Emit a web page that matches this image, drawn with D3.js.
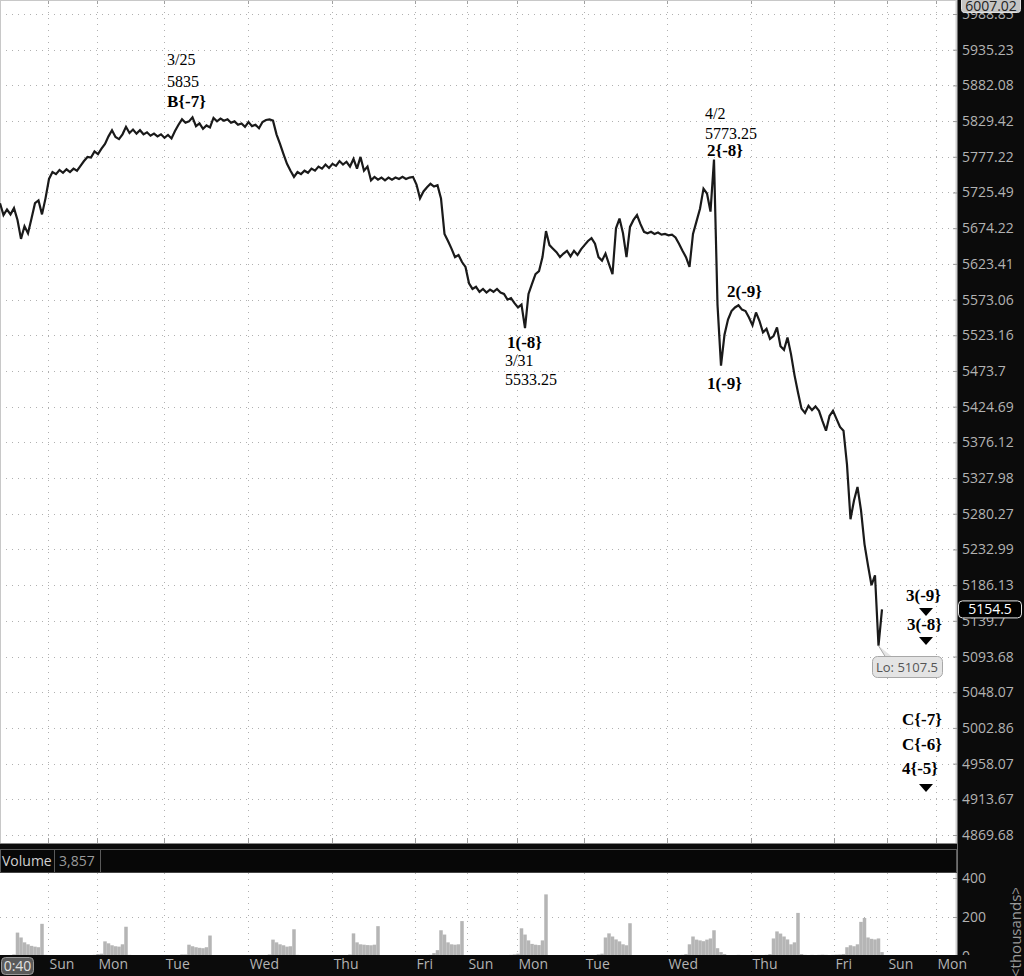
<!DOCTYPE html>
<html><head><meta charset="utf-8">
<script src="https://cdn.jsdelivr.net/npm/d3@7"></script>
<style>body{margin:0;background:#fff;overflow:hidden;} svg{display:block;}</style>
</head><body><svg id="c" width="1024" height="976"></svg>
<script>
// ---------------- DATA ----------------
const priceTicks = [5988.85, 5935.23, 5882.08, 5829.42, 5777.22, 5725.49, 5674.22, 5623.41, 5573.06, 5523.16, 5473.7, 5424.69, 5376.12, 5327.98, 5280.27, 5232.99, 5186.13, 5139.7, 5093.68, 5048.07, 5002.86, 4958.07, 4913.67, 4869.68];
const dayLabels = ["Sun", "Mon", "Tue", "Wed", "Thu", "Fri", "Sun", "Mon", "Tue", "Wed", "Thu", "Fri", "Sun", "Mon"];
// positions of the day separators, in hourly-bar units
const dayPos = [13.7, 27.7, 46.9, 70.9, 94.9, 118.6, 133.4, 147.7, 166.9, 190.6, 214.6, 238.3, 253.4, 267.4];
// hourly closes
const prices = [
 5710, 5693, 5701, 5694, 5703, 5686, 5659, 5677, 5667, 5688, 5710, 5714, 5694, 5717,
 5745, 5755, 5752, 5758, 5754, 5759, 5755, 5760, 5757, 5764, 5771, 5777, 5776,
 5785, 5781, 5789, 5796, 5807, 5816, 5806, 5803, 5810, 5821, 5812, 5817, 5811, 5816, 5810, 5813, 5808, 5811, 5807, 5810, 5805, 5809,
 5804, 5815, 5824, 5832, 5827, 5829, 5835, 5822, 5826, 5818, 5823, 5820, 5834, 5829, 5833, 5830, 5832, 5827, 5829, 5824, 5826, 5821, 5828, 5822, 5824, 5819, 5828, 5831, 5832, 5830,
 5810, 5796, 5781, 5767, 5757, 5748, 5755, 5752,
 5757, 5754, 5760, 5757, 5763, 5760, 5766, 5761, 5767, 5764, 5771, 5766, 5770, 5763, 5774, 5760, 5777, 5757, 5763, 5743, 5748, 5744, 5747, 5743, 5747, 5744, 5747, 5745, 5748, 5745, 5747, 5748, 5737, 5717, 5727, 5733, 5738, 5734, 5736,
 5717, 5666, 5656, 5645, 5633, 5636, 5626, 5619, 5596, 5588, 5591, 5584, 5588, 5583, 5587, 5584, 5588, 5583, 5581, 5573, 5575, 5568, 5562, 5566, 5533.25,
 5581, 5595, 5609, 5613, 5633, 5670, 5650, 5645, 5640, 5633, 5638, 5642, 5634, 5642, 5636, 5644, 5650, 5656, 5660, 5652, 5633, 5628, 5638, 5623, 5609, 5674, 5688, 5667, 5633, 5676, 5686, 5693, 5680, 5669, 5667, 5669, 5666, 5668, 5665, 5666, 5664, 5665, 5661, 5652, 5642, 5633, 5619, 5666, 5684, 5702, 5731, 5724, 5698, 5773.25,
 5566, 5481, 5524, 5545, 5557, 5562, 5565, 5559, 5557, 5548, 5537, 5555, 5543, 5527, 5532, 5518, 5522, 5534, 5508, 5503, 5520, 5497, 5468, 5444, 5422, 5416, 5426, 5420, 5425, 5419, 5405, 5392, 5412, 5419, 5408, 5397, 5392, 5346, 5273, 5298, 5316, 5285, 5240, 5212, 5186, 5199, 5107.5, 5154.5
];
// hourly volume (thousands)
const volumes = [
 4, 3, 5, 4, 8,
 120, 95, 70, 60, 52, 48, 45, 165, 6,
 5, 4, 3, 4, 5, 3, 4, 5, 4, 3, 4, 5, 4, 6, 10,
 12, 75, 65, 55, 50, 48, 60, 150, 6,
 4, 3, 5, 4, 3, 4, 5, 3, 4, 5, 4, 3, 4, 5, 8,
 8, 58, 50, 45, 42, 40, 45, 105, 5,
 4, 3, 5, 4, 3, 4, 5, 3, 4, 5, 4, 3, 4, 5, 4, 8,
 84, 70, 60, 55, 48, 50, 137, 6,
 4, 3, 5, 4, 3, 4, 5, 3, 4, 5, 4, 3, 4, 5, 8,
 116, 70, 60, 58, 56, 55, 58, 153, 5,
 4, 3, 5, 4, 3, 4, 5, 3, 4, 5, 4, 3, 4, 6, 15,
 30, 132, 110, 70, 60, 58, 60, 179, 5,
 3, 2, 2, 3, 2, 3, 4, 3, 4, 5, 4, 5, 6, 8,
 12, 142, 110, 80, 62, 58, 56, 80, 316, 5,
 4, 3, 5, 4, 3, 4, 5, 3, 4, 5, 4, 3, 4, 8, 12,
 95, 116, 100, 85, 75, 60, 55, 168, 5,
 4, 3, 5, 4, 3, 4, 5, 3, 4, 5, 4, 3, 4, 6, 10,
 60, 100, 84, 80, 76, 84, 90, 132, 40, 20, 10,
 5, 4, 5, 6, 4, 5, 4, 6, 5, 4, 5, 6, 10,
 90, 126, 115, 100, 85, 60, 70, 221, 10,
 6, 5, 6, 5, 6, 7, 6, 5, 6, 7, 8, 10,
 45, 55, 50, 60, 175, 195, 95, 88, 85, 90, 20
];
const volTicks = [0, 200, 400];
const highPrice = 6007.02;
const lastPrice = 5154.5;
const lowPrice = 5107.5;
const lastVolume = "3,857";
const timeLabel = "0:40";

// ---------------- LAYOUT ----------------
const svg = d3.select("#c");
const W = 1024, H = 976, plotR = 957;
const priceBottom = 843, volTop = 873, volBottom = 955;
const axisColor = "#b3b3b3";
const uiFont = "'Open Sans', 'DejaVu Sans', sans-serif";
const serif = "'Liberation Serif', 'Times New Roman', serif";

const x = d3.scaleLinear().domain([0, 273.43]).range([0, plotR]);
const y = d3.scaleLog().domain([4869.68, 5988.85]).range([835, 14]);
const yv = d3.scaleLinear().domain([0, 400]).range([956, 878]);

svg.append("rect").attr("width", W).attr("height", H).attr("fill", "#fff");

const defs = svg.append("defs");
defs.append("clipPath").attr("id", "pclip").append("rect").attr("x", 0).attr("y", 0).attr("width", plotR).attr("height", priceBottom);
defs.append("clipPath").attr("id", "vclip").append("rect").attr("x", 0).attr("y", volTop).attr("width", plotR).attr("height", volBottom - volTop);
defs.append("clipPath").attr("id", "uclip").append("rect").attr("x", plotR).attr("y", 888).attr("width", W - plotR).attr("height", H - 888);

// grid
const grid = svg.append("g").attr("stroke", "#b0b0b0").attr("stroke-width", 1).attr("stroke-dasharray", "1,5");
grid.selectAll("line.h").data(priceTicks).join("line")
  .attr("x1", 0).attr("x2", plotR)
  .attr("y1", d => Math.round(y(d)) + 0.5).attr("y2", d => Math.round(y(d)) + 0.5);
grid.selectAll("line.v").data(dayPos).join("line")
  .attr("x1", d => Math.round(x(d)) + 0.5).attr("x2", d => Math.round(x(d)) + 0.5)
  .attr("y1", 0).attr("y2", priceBottom);
grid.selectAll("line.vv").data(dayPos).join("line")
  .attr("x1", d => Math.round(x(d)) + 0.5).attr("x2", d => Math.round(x(d)) + 0.5)
  .attr("y1", volTop).attr("y2", volBottom);
grid.append("line").attr("x1", 0).attr("x2", plotR)
  .attr("y1", Math.round(yv(200)) + 0.5).attr("y2", Math.round(yv(200)) + 0.5);

const tk = svg.append("g").attr("stroke", "#a0a0a0");
tk.selectAll("line.t").data(dayPos).join("line")
  .attr("x1", d => Math.round(x(d)) + 0.5).attr("x2", d => Math.round(x(d)) + 0.5).attr("y1", 0).attr("y2", 4);
tk.selectAll("line.b").data(dayPos).join("line")
  .attr("x1", d => Math.round(x(d)) + 0.5).attr("x2", d => Math.round(x(d)) + 0.5).attr("y1", priceBottom - 5).attr("y2", priceBottom);

svg.append("line").attr("x1", 0.5).attr("x2", 0.5).attr("y1", 0).attr("y2", priceBottom).attr("stroke", "#c8c8c8");
svg.append("line").attr("x1", 0).attr("x2", plotR).attr("y1", 0.5).attr("y2", 0.5).attr("stroke", "#c8c8c8");

// volume bars
svg.append("g").attr("clip-path", "url(#vclip)")
  .selectAll("rect").data(volumes).join("rect")
  .attr("x", (d, i) => x(i) - 1.75).attr("width", 3.5)
  .attr("y", d => yv(d)).attr("height", d => yv(0) - yv(d))
  .attr("fill", "#b5b5b5");

// price line
const line = d3.line().x((d, i) => x(i)).y(d => y(d));
svg.append("path").datum(prices).attr("clip-path", "url(#pclip)")
  .attr("d", line).attr("fill", "none").attr("stroke", "#1a1a1a")
  .attr("stroke-width", 2.2).attr("stroke-linejoin", "miter").attr("stroke-miterlimit", 3);

// annotations
const ann = svg.append("g").attr("font-family", serif).attr("fill", "#000");
const notes = [
  {t: "3/25", x: 167, y: 65, b: false},
  {t: "5835", x: 167, y: 87, b: false},
  {t: "B{-7}", x: 167, y: 107, b: true},
  {t: "4/2", x: 705, y: 119, b: false},
  {t: "5773.25", x: 705, y: 139, b: false},
  {t: "2{-8}", x: 707, y: 156, b: true},
  {t: "1(-8}", x: 507, y: 348, b: true},
  {t: "3/31", x: 505, y: 366, b: false},
  {t: "5533.25", x: 505, y: 385, b: false},
  {t: "2(-9}", x: 727, y: 297, b: true},
  {t: "1(-9}", x: 707, y: 389, b: true},
  {t: "3(-9}", x: 906, y: 601, b: true},
  {t: "3(-8}", x: 907, y: 630, b: true},
  {t: "C{-7}", x: 902, y: 725, b: true},
  {t: "C{-6}", x: 902, y: 750, b: true},
  {t: "4{-5}", x: 902, y: 774, b: true}
];
ann.selectAll("text").data(notes).join("text")
  .attr("x", d => d.x).attr("y", d => d.y)
  .attr("font-size", d => d.b ? 17 : 16)
  .attr("font-weight", d => d.b ? "bold" : "normal")
  .text(d => d.t);
const tris = [[926, 608], [926, 637], [926, 784]];
ann.selectAll("path").data(tris).join("path")
  .attr("d", d => `M${d[0] - 7},${d[1]} L${d[0] + 7},${d[1]} L${d[0]},${d[1] + 8} Z`)
  .attr("fill", "#000");

// Lo callout
const lowIdx = prices.indexOf(lowPrice);
const lx = x(lowIdx), ly = y(lowPrice);
svg.append("path").attr("d", `M${lx},${ly} L${lx + 7},${657} L${lx + 14},${657}`)
  .attr("fill", "#e4e4e4").attr("stroke", "#a8a8a8");
svg.append("rect").attr("x", 872.5).attr("y", 656.5).attr("width", 70).attr("height", 21).attr("rx", 5)
  .attr("fill", "#e4e4e4").attr("stroke", "#a8a8a8");
svg.append("text").attr("x", 907).attr("y", 672).attr("text-anchor", "middle")
  .attr("font-family", uiFont).attr("font-size", 13).attr("fill", "#555").text("Lo: " + lowPrice);

// ---------- right axis panel ----------
svg.append("rect").attr("x", plotR).attr("y", 0).attr("width", W - plotR).attr("height", H).attr("fill", "#0b0b0b");
svg.append("line").attr("x1", plotR - 0.5).attr("x2", plotR - 0.5).attr("y1", 0).attr("y2", volBottom).attr("stroke", "#cfcfcf").attr("stroke-width", 2);

const yAxis = d3.axisRight(y).tickValues(priceTicks).tickFormat(d => String(d)).tickSize(4).tickPadding(5);
const ya = svg.append("g").attr("transform", `translate(${plotR - 4},0)`).call(yAxis);
ya.select(".domain").remove();
ya.selectAll(".tick line").attr("stroke", "#9a9a9a");
ya.selectAll(".tick text").attr("fill", axisColor).attr("font-family", uiFont).attr("font-size", 14);

const va = svg.append("g").attr("transform", `translate(${plotR - 4},0)`)
  .call(d3.axisRight(yv).tickValues(volTicks).tickFormat(d => String(d)).tickSize(4).tickPadding(5));
va.select(".domain").remove();
va.selectAll(".tick line").attr("stroke", "#9a9a9a");
va.selectAll(".tick text").attr("fill", axisColor).attr("font-family", uiFont).attr("font-size", 14);

// price bubbles
const hy = y(highPrice);
svg.append("rect").attr("x", 961.5).attr("y", -4.5).attr("width", 59).attr("height", 17).attr("rx", 3)
  .attr("fill", "#c4c4c4").attr("stroke", "#e0e0e0");
svg.append("text").attr("x", 991).attr("y", 11).attr("text-anchor", "middle")
  .attr("font-family", uiFont).attr("font-size", 14).attr("fill", "#222").text(highPrice.toFixed(2));
const cy = y(lastPrice);
svg.append("rect").attr("x", 958.5).attr("y", cy - 8.5).attr("width", 63).attr("height", 17).attr("rx", 4)
  .attr("fill", "#000").attr("stroke", "#e6e6e6");
svg.append("text").attr("x", 990).attr("y", cy + 5).attr("text-anchor", "middle")
  .attr("font-family", uiFont).attr("font-size", 14).attr("fill", "#fff").text(String(lastPrice));

// ---------- separator / volume header ----------
svg.append("rect").attr("x", 0).attr("y", priceBottom).attr("width", plotR).attr("height", volTop - priceBottom).attr("fill", "#0b0b0b");
svg.append("line").attr("x1", 0).attr("x2", plotR).attr("y1", priceBottom + 0.5).attr("y2", priceBottom + 0.5).attr("stroke", "#888");
svg.append("rect").attr("x", 0.5).attr("y", 849.5).attr("width", plotR - 1).attr("height", 23).attr("fill", "#070707").attr("stroke", "#5a5a5a");
svg.append("line").attr("x1", 54.5).attr("x2", 54.5).attr("y1", 850).attr("y2", 872).attr("stroke", "#5a5a5a");
svg.append("line").attr("x1", 100.5).attr("x2", 100.5).attr("y1", 850).attr("y2", 872).attr("stroke", "#5a5a5a");
svg.append("text").attr("x", 2).attr("y", 866).attr("font-family", uiFont).attr("font-size", 14).attr("fill", "#d0d0d0").text("Volume");
svg.append("text").attr("x", 59).attr("y", 866).attr("font-family", uiFont).attr("font-size", 14).attr("fill", "#9a9a9a").text(lastVolume);
svg.append("line").attr("x1", 0).attr("x2", plotR).attr("y1", volTop - 0.5).attr("y2", volTop - 0.5).attr("stroke", "#444");

// ---------- bottom axis ----------
svg.append("rect").attr("x", 0).attr("y", volBottom).attr("width", W).attr("height", H - volBottom).attr("fill", "#0b0b0b");
const xa = svg.append("g").attr("transform", `translate(0,${volBottom})`)
  .call(d3.axisBottom(x).tickValues(dayPos).tickFormat((d, i) => dayLabels[i]).tickSize(0).tickPadding(6));
xa.select(".domain").remove();
xa.selectAll(".tick text").attr("text-anchor", "start").attr("dx", 1).attr("dy", "0.55em")
  .attr("fill", axisColor).attr("font-family", uiFont).attr("font-size", 14);

svg.append("rect").attr("x", 1.5).attr("y", 957.5).attr("width", 32).attr("height", 17).attr("rx", 4)
  .attr("fill", "#5a5a5a").attr("stroke", "#9a9a9a");
svg.append("text").attr("x", 17.5).attr("y", 971).attr("text-anchor", "middle")
  .attr("font-family", uiFont).attr("font-size", 14).attr("fill", "#e0e0e0").text(timeLabel);

// volume unit label (drawn last, runs over the bottom band, clipped at top)
svg.append("g").attr("clip-path", "url(#uclip)").append("text")
  .attr("transform", `translate(1021,977) rotate(-90)`)
  .attr("font-family", uiFont).attr("font-size", 15).attr("fill", "#9a9a9a").text("<thousands>");
</script>
</body></html>
